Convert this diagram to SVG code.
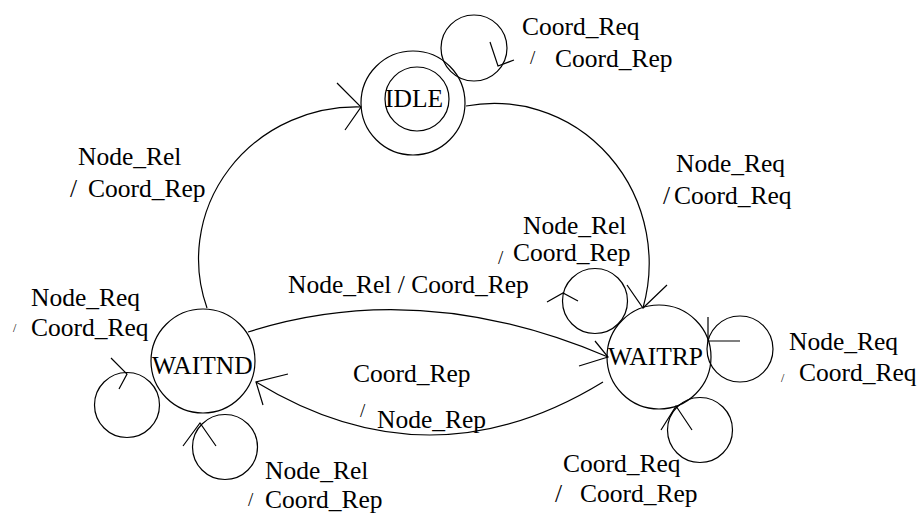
<svg xmlns="http://www.w3.org/2000/svg" width="920" height="515" viewBox="0 0 920 515">
<style>
.s{fill:none;stroke:#000;stroke-width:1.2}
text{font-family:"Liberation Serif",Tinos,"Times New Roman",Times,"Nimbus Roman","Nimbus Roman No9 L","Noto Serif","DejaVu Serif",FreeSerif,serif;font-size:25.5px;fill:#000}
.m{font-size:19px}
.t{font-size:12px}
</style>
<rect width="920" height="515" fill="#fff"/>
<g id="IDLE">
<circle class="s" cx="413" cy="103" r="52"/>
<circle class="s" cx="417" cy="99" r="32"/>
<text x="385" y="107">IDLE</text>
</g>
<g id="WAITND">
<circle class="s" cx="203" cy="361" r="52"/>
<text x="152" y="374">WAITND</text>
</g>
<g id="WAITRP">
<circle class="s" cx="659" cy="357" r="52"/>
<text x="608" y="365">WAITRP</text>
</g>
<g id="connectors">
<path class="s" d="M466,106 A155,160 0 0 1 643,308"/>
<path class="s" d="M627,285 L643,308 L667,285"/>
<path class="s" d="M207,308 A158,152 0 0 1 361,107"/>
<path class="s" d="M337,83 L361,107 L345,130"/>
<path class="s" d="M248,332 Q420,277 608,357"/>
<path class="s" d="M595,341 L608,357 L579,366"/>
<path class="s" d="M603,382 Q430,488 256,382"/>
<path class="s" d="M288,374 L256,382 L263,405"/>
<circle class="s" cx="474" cy="48" r="33"/>
<path class="s" d="M490,42 L498,66 L514,60"/>
<circle class="s" cx="127" cy="405" r="32.5"/>
<path class="s" d="M111,358 L127,374 L119,389"/>
<circle class="s" cx="225" cy="447" r="32.5"/>
<path class="s" d="M183,446 L200,423 L216,446"/>
<circle class="s" cx="595" cy="301" r="32.5"/>
<path class="s" d="M547,302 L563,293 L578,301"/>
<circle class="s" cx="740" cy="349" r="33"/>
<path class="s" d="M708,317 L708,341 L740,341"/>
<circle class="s" cx="700" cy="430" r="32.5"/>
<path class="s" d="M661,430 L676,406 L692,430"/>
</g>
<g id="labels">
<text x="522" y="35">Coord_Req</text>
<text class="m" x="530" y="64">/</text>
<text x="555" y="67">Coord_Rep</text>
<text x="78" y="165">Node_Rel</text>
<text x="70" y="197">/</text>
<text x="88" y="197">Coord_Rep</text>
<text x="676" y="172">Node_Req</text>
<text x="663" y="204">/</text>
<text x="674" y="204">Coord_Req</text>
<text x="523" y="234">Node_Rel</text>
<text class="m" x="498" y="264">/</text>
<text x="513" y="261">Coord_Rep</text>
<text x="288" y="293">Node_Rel / Coord_Rep</text>
<text x="31" y="306">Node_Req</text>
<text class="t" x="13" y="332">/</text>
<text x="31" y="336">Coord_Req</text>
<text x="789" y="350">Node_Req</text>
<text class="t" x="781" y="382">/</text>
<text x="799" y="381">Coord_Req</text>
<text x="353" y="382">Coord_Rep</text>
<text class="m" x="360" y="417">/</text>
<text x="377" y="428">Node_Rep</text>
<text x="563" y="472">Coord_Req</text>
<text x="555" y="502">/</text>
<text x="580" y="502">Coord_Rep</text>
<text x="265" y="479">Node_Rel</text>
<text class="m" x="248" y="506">/</text>
<text x="265" y="508">Coord_Rep</text>
</g>
</svg>
